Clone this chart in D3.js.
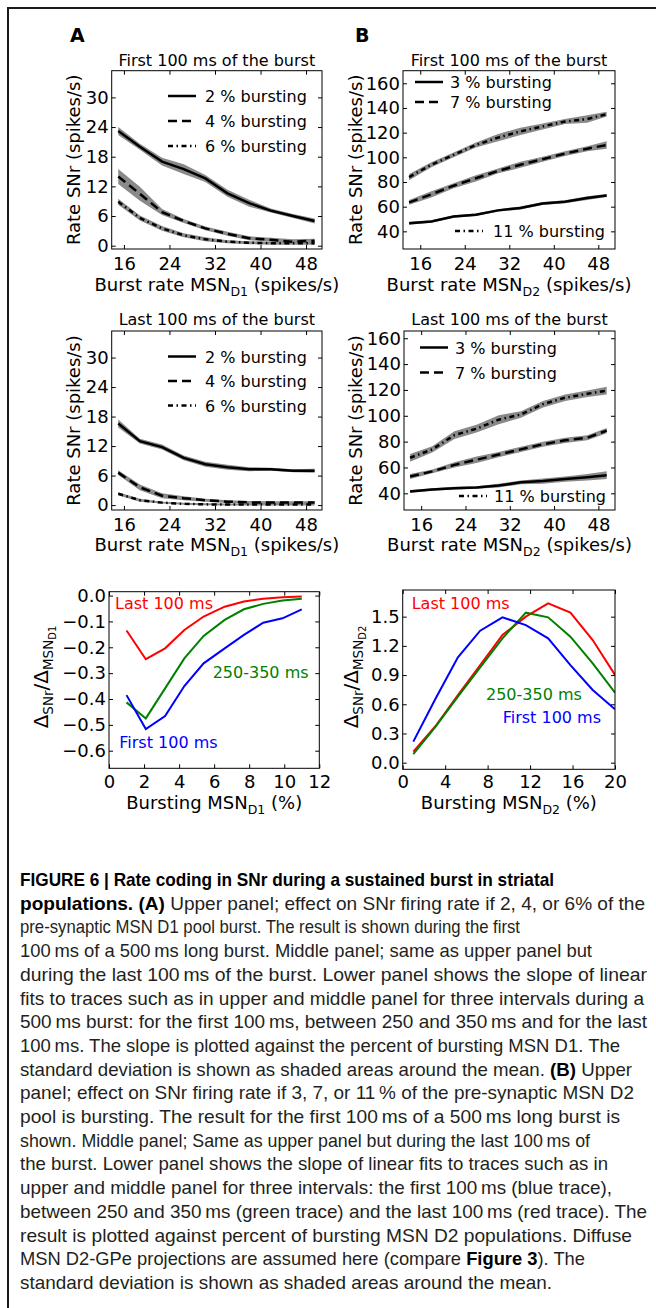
<!DOCTYPE html>
<html lang="en">
<head>
<meta charset="utf-8">
<title>Figure 6</title>
<script src="https://cdn.jsdelivr.net/npm/d3@7"></script>
<style>
  body { margin: 0; background: #fff; }
  svg { display: block; }
</style>
</head>
<body>
<script>
// ---- data ----
var burstRateD1 = [15, 18.8, 22.7, 26.5, 30.3, 34.2, 38, 41.8, 45.7, 49.5];
var burstRateD2 = [14, 18, 22, 26, 30, 34, 38, 42, 46, 49.5];

// A, first 100 ms (2, 4, 6 % bursting)
var d1First2 = [23.2, 20.0, 17.0, 15.5, 13.6, 10.6, 8.6, 7.1, 6.0, 5.0];
var d1First4 = [14.0, 10.5, 6.8, 5.0, 3.5, 2.4, 1.5, 1.2, 0.8, 1.0];
var d1First6 = [8.9, 5.6, 3.5, 2.1, 1.3, 0.8, 0.6, 0.5, 0.5, 0.5];
var d1FirstSd2 = [0.8, 0.6, 0.8, 1.0, 0.7, 0.7, 0.7, 0.4, 0.4, 0.5];
var d1FirstSd4 = [1.5, 1.4, 0.6, 0.4, 0.4, 0.4, 0.4, 0.4, 0.5, 0.4];
var d1FirstSd6 = [0.6, 0.5, 0.5, 0.4, 0.4, 0.3, 0.3, 0.3, 0.3, 0.3];

// A, last 100 ms
var d1Last2 = [16.6, 13.0, 11.8, 9.6, 8.3, 7.7, 7.3, 7.3, 7.0, 7.0];
var d1Last4 = [6.6, 3.6, 1.9, 1.4, 1.0, 0.7, 0.55, 0.5, 0.5, 0.5];
var d1Last6 = [2.3, 1.0, 0.5, 0.25, 0.15, 0.1, 0.1, 0.1, 0.1, 0.1];
var d1LastSd2 = [0.8, 0.5, 0.5, 0.5, 0.5, 0.5, 0.4, 0.3, 0.3, 0.4];
var d1LastSd4 = [0.5, 0.6, 0.5, 0.4, 0.3, 0.3, 0.3, 0.3, 0.3, 0.3];
var d1LastSd6 = [0.3, 0.3, 0.2, 0.2, 0.2, 0.2, 0.2, 0.2, 0.2, 0.2];

// B, first 100 ms (3, 7, 11 % bursting)
var d2First3 = [46.5, 48, 52, 53.5, 57, 59, 62.5, 64, 67, 69];
var d2First7 = [63.5, 70, 77, 83, 89, 94, 98.5, 103, 107, 110];
var d2First11 = [84, 94, 102, 110, 116, 121, 125, 129, 131, 135];
var d2FirstSd3 = [1.2, 1.0, 1.0, 1.0, 1.0, 1.2, 1.2, 1.2, 1.5, 1.2];
var d2FirstSd7 = [2.0, 2.5, 2.0, 2.5, 2.0, 2.5, 2.0, 2.0, 2.0, 3.0];
var d2FirstSd11 = [2.5, 2.0, 2.0, 2.0, 3.0, 3.0, 2.5, 2.0, 3.0, 2.0];

// B, last 100 ms
var d2Last3 = [41.5, 43, 44, 44.5, 46, 48.5, 49.5, 51, 52.5, 54];
var d2Last7 = [53, 57, 62, 66, 70, 74, 78, 81, 83, 88.5];
var d2Last11 = [67.5, 74, 85, 90, 97, 101, 109, 114, 117, 119.5];
var d2LastSd3 = [1.0, 1.0, 1.0, 1.0, 1.5, 1.5, 2.0, 2.0, 2.5, 3.0];
var d2LastSd7 = [2.0, 1.5, 2.0, 2.5, 2.0, 2.0, 2.0, 2.0, 2.0, 2.0];
var d2LastSd11 = [3.0, 2.5, 3.0, 3.0, 3.5, 2.5, 2.5, 2.5, 2.5, 3.0];

var d1Legend = ["2 % bursting", "4 % bursting", "6 % bursting"];
var d2Legend = ["3 % bursting", "7 % bursting", "11 % bursting"];

// lower panels: slope vs % bursting
var pctD1 = [1, 2.1, 3.2, 4.3, 5.4, 6.6, 7.7, 8.8, 9.9, 11];
var slopeD1Last = [-0.135, -0.246, -0.204, -0.133, -0.081, -0.043, -0.023, -0.012, -0.006, -0.004];
var slopeD1Mid = [-0.413, -0.475, -0.359, -0.243, -0.156, -0.094, -0.053, -0.032, -0.019, -0.012];
var slopeD1First = [-0.385, -0.516, -0.466, -0.350, -0.262, -0.204, -0.152, -0.105, -0.088, -0.053];

var pctD2 = [1, 3.1, 5.2, 7.3, 9.4, 11.6, 13.7, 15.8, 17.9, 20];
var slopeD2Last = [0.113, 0.377, 0.695, 1.003, 1.312, 1.50, 1.637, 1.541, 1.260, 0.901];
var slopeD2Mid = [0.089, 0.370, 0.678, 0.979, 1.277, 1.541, 1.493, 1.295, 1.021, 0.719];
var slopeD2First = [0.216, 0.660, 1.082, 1.356, 1.493, 1.414, 1.277, 1.003, 0.747, 0.548];

var intervalNames = ["Last 100 ms", "250-350 ms", "First 100 ms"];

var W = 656, H = 1308;
var FONT = "'DejaVu Sans', 'Bitstream Vera Sans', sans-serif";

var svg = d3.select("body").append("svg")
    .attr("width", W)
    .attr("height", H)
    .style("font-family", FONT);

// outer border (top and left rule)
svg.append("path")
    .attr("d", "M8," + H + "V8H" + W)
    .attr("fill", "none")
    .attr("stroke", "#1a1a1a")
    .attr("stroke-width", 2);

var clipId = 0;

// generic framed panel with inward ticks on all four sides
function panel(o) {
    var x = d3.scaleLinear().domain(o.xDomain).range([o.left, o.right]);
    var y = d3.scaleLinear().domain(o.yDomain).range([o.bottom, o.top]);
    var g = svg.append("g");

    var cid = "clip" + (clipId++);
    g.append("clipPath").attr("id", cid)
      .append("rect")
        .attr("x", o.left).attr("y", o.top)
        .attr("width", o.right - o.left).attr("height", o.bottom - o.top);
    var plot = g.append("g").attr("clip-path", "url(#" + cid + ")");

    g.append("g")
        .attr("transform", "translate(0," + o.bottom + ")")
        .call(d3.axisBottom(x).tickValues(o.xTicks).tickFormat(o.xFmt)
            .tickSizeInner(-4).tickSizeOuter(0).tickPadding(o.xPad));
    g.append("g")
        .attr("transform", "translate(" + o.left + ",0)")
        .call(d3.axisLeft(y).tickValues(o.yTicks).tickFormat(o.yFmt)
            .tickSizeInner(-4).tickSizeOuter(0).tickPadding(3));
    g.append("g")
        .attr("transform", "translate(0," + o.top + ")")
        .call(d3.axisTop(x).tickValues(o.xTicks).tickFormat("")
            .tickSizeInner(-4).tickSizeOuter(0));
    g.append("g")
        .attr("transform", "translate(" + o.right + ",0)")
        .call(d3.axisRight(y).tickValues(o.yTicks).tickFormat("")
            .tickSizeInner(-4).tickSizeOuter(0));

    g.selectAll(".domain").remove();
    g.selectAll(".tick line").attr("stroke", "#000").attr("stroke-width", 1);
    g.selectAll(".tick text")
        .attr("font-family", FONT)
        .attr("font-size", 18)
        .attr("fill", "#000");

    g.append("rect")
        .attr("x", o.left).attr("y", o.top)
        .attr("width", o.right - o.left).attr("height", o.bottom - o.top)
        .attr("fill", "none")
        .attr("stroke", "#000")
        .attr("stroke-width", 1);

    return { x: x, y: y, g: g, plot: plot };
}

function axisTitle(g, x, y, main, sub, tail, rotate) {
    var t = g.append("text")
        .attr("font-size", 18)
        .attr("text-anchor", "middle")
        .attr("fill", "#000");
    if (rotate) t.attr("transform", "translate(" + x + "," + y + ") rotate(-90)");
    else t.attr("x", x).attr("y", y);
    t.append("tspan").text(main);
    if (sub) {
        t.append("tspan").attr("font-size", 12.5).attr("dy", 5).text(sub);
        t.append("tspan").attr("dy", -5).text(tail);
    }
    return t;
}

var dashStyles = [null, "9,5", "5,3.5,1.5,3.5"];

function rateSeries(p, xs, means, sds) {
    means.forEach(function (m, k) {
        var rows = xs.map(function (v, i) { return { x: v, m: m[i], s: sds[k][i] }; });
        p.plot.append("path")
            .datum(rows)
            .attr("fill", "#8a8a8a")
            .attr("d", d3.area()
                .x(function (d) { return p.x(d.x); })
                .y0(function (d) { return p.y(d.m - d.s); })
                .y1(function (d) { return p.y(d.m + d.s); }));
    });
    means.forEach(function (m, k) {
        var rows = xs.map(function (v, i) { return { x: v, m: m[i] }; });
        p.plot.append("path")
            .datum(rows)
            .attr("fill", "none")
            .attr("stroke", "#000")
            .attr("stroke-width", 2.5)
            .attr("stroke-dasharray", dashStyles[k])
            .attr("d", d3.line()
                .x(function (d) { return p.x(d.x); })
                .y(function (d) { return p.y(d.m); }));
    });
}

function legendRow(g, k, label, lx, ly, tx) {
    g.append("line")
        .attr("x1", lx).attr("x2", lx + 28)
        .attr("y1", ly).attr("y2", ly)
        .attr("stroke", "#000")
        .attr("stroke-width", 2.5)
        .attr("stroke-dasharray", dashStyles[k]);
    g.append("text")
        .attr("x", tx).attr("y", ly + 6)
        .attr("font-size", 16)
        .attr("fill", "#000")
        .text(label);
}

function ratePanel(o) {
    var p = panel(o);
    rateSeries(p, o.xs, o.means, o.sds);
    var cx = (o.left + o.right) / 2;
    p.g.append("text")
        .attr("x", cx).attr("y", o.titleY)
        .attr("text-anchor", "middle")
        .attr("font-size", 16)
        .text(o.title);
    axisTitle(p.g, cx, o.xLabelY, "Burst rate MSN", o.sub, " (spikes/s)", false);
    axisTitle(p.g, o.yLabelX, (o.top + o.bottom) / 2, "Rate SNr (spikes/s)", null, null, true);
    o.legend.forEach(function (r) {
        legendRow(p.g, r.k, o.legendLabels[r.k], r.lx, r.y, r.tx);
    });
    return p;
}

var intFmt = d3.format("d");

// ---- A, first 100 ms ----
ratePanel({
    left: 111.7, right: 322, top: 70.7, bottom: 249,
    xDomain: [13.85, 50.8], yDomain: [-0.67, 35.4],
    xTicks: [16, 24, 32, 40, 48], yTicks: [0, 6, 12, 18, 24, 30],
    xFmt: intFmt, yFmt: intFmt, xPad: 8,
    xs: burstRateD1,
    means: [d1First2, d1First4, d1First6],
    sds: [d1FirstSd2, d1FirstSd4, d1FirstSd6],
    title: "First 100 ms of the burst", titleY: 66,
    xLabelY: 291, yLabelX: 80, sub: "D1",
    legendLabels: d1Legend,
    legend: [{ k: 0, lx: 168, y: 96, tx: 205 }, { k: 1, lx: 168, y: 121, tx: 205 }, { k: 2, lx: 168, y: 146, tx: 205 }]
});

// ---- B, first 100 ms ----
ratePanel({
    left: 403, right: 615, top: 70.7, bottom: 249,
    xDomain: [12.9, 51], yDomain: [25.7, 170.2],
    xTicks: [16, 24, 32, 40, 48], yTicks: [40, 60, 80, 100, 120, 140, 160],
    xFmt: intFmt, yFmt: intFmt, xPad: 8,
    xs: burstRateD2,
    means: [d2First3, d2First7, d2First11],
    sds: [d2FirstSd3, d2FirstSd7, d2FirstSd11],
    title: "First 100 ms of the burst", titleY: 66,
    xLabelY: 291, yLabelX: 362, sub: "D2",
    legendLabels: d2Legend,
    legend: [{ k: 0, lx: 415, y: 82, tx: 450 }, { k: 1, lx: 415, y: 102, tx: 450 }, { k: 2, lx: 455, y: 231, tx: 493 }]
});

// ---- A, last 100 ms ----
ratePanel({
    left: 111.7, right: 322, top: 331, bottom: 510,
    xDomain: [13.85, 50.8], yDomain: [-1.0, 35.4],
    xTicks: [16, 24, 32, 40, 48], yTicks: [0, 6, 12, 18, 24, 30],
    xFmt: intFmt, yFmt: intFmt, xPad: 8,
    xs: burstRateD1,
    means: [d1Last2, d1Last4, d1Last6],
    sds: [d1LastSd2, d1LastSd4, d1LastSd6],
    title: "Last 100 ms of the burst", titleY: 325,
    xLabelY: 551, yLabelX: 80, sub: "D1",
    legendLabels: d1Legend,
    legend: [{ k: 0, lx: 168, y: 356.5, tx: 205 }, { k: 1, lx: 168, y: 381, tx: 205 }, { k: 2, lx: 168, y: 405.5, tx: 205 }]
});

// ---- B, last 100 ms ----
ratePanel({
    left: 404, right: 615, top: 331, bottom: 510,
    xDomain: [12.9, 51], yDomain: [27.1, 165.6],
    xTicks: [16, 24, 32, 40, 48], yTicks: [40, 60, 80, 100, 120, 140, 160],
    xFmt: intFmt, yFmt: intFmt, xPad: 8,
    xs: burstRateD2,
    means: [d2Last3, d2Last7, d2Last11],
    sds: [d2LastSd3, d2LastSd7, d2LastSd11],
    title: "Last 100 ms of the burst", titleY: 325,
    xLabelY: 551, yLabelX: 362, sub: "D2",
    legendLabels: d2Legend,
    legend: [{ k: 0, lx: 420, y: 347.5, tx: 455 }, { k: 1, lx: 420, y: 372.5, tx: 455 }, { k: 2, lx: 459, y: 496, tx: 494 }]
});

// panel letters
svg.append("text").attr("x", 70).attr("y", 42).attr("font-size", 19).attr("font-weight", "bold").text("A");
svg.append("text").attr("x", 355).attr("y", 42).attr("font-size", 19).attr("font-weight", "bold").text("B");

// ---- slope panels ----
var intervalColors = ["#ff0000", "#008000", "#0000ff"];

function slopeLabel(g, bx, cy, sub) {
    var t = g.append("text")
        .attr("transform", "translate(" + bx + "," + cy + ") rotate(-90)")
        .attr("text-anchor", "middle")
        .attr("font-size", 20)
        .attr("fill", "#000");
    t.append("tspan").text("\u0394");
    t.append("tspan").attr("font-size", 13.5).attr("dy", 5).text("SNr");
    t.append("tspan").attr("dy", -5).text("/\u0394");
    t.append("tspan").attr("font-size", 13.5).attr("dy", 5).text("MSN");
    t.append("tspan").attr("font-size", 10).attr("dy", 3).text(sub);
}

function slopePanel(o) {
    var p = panel(o);
    o.series.forEach(function (s, k) {
        var rows = o.xs.map(function (v, i) { return { x: v, v: s[i] }; });
        p.plot.append("path")
            .datum(rows)
            .attr("fill", "none")
            .attr("stroke", intervalColors[k])
            .attr("stroke-width", 2)
            .attr("d", d3.line()
                .x(function (d) { return p.x(d.x); })
                .y(function (d) { return p.y(d.v); }));
    });
    o.notes.forEach(function (n, k) {
        p.g.append("text")
            .attr("x", n[0]).attr("y", n[1])
            .attr("font-size", 16)
            .attr("fill", intervalColors[k])
            .text(intervalNames[k]);
    });
    var cx = (o.left + o.right) / 2;
    axisTitle(p.g, cx, 809, "Bursting MSN", o.sub, " (%)", false);
    slopeLabel(p.g, o.yLabelX, 677, o.sub);
}

slopePanel({
    left: 109, right: 319.3, top: 591.7, bottom: 768.3,
    xDomain: [0, 12], yDomain: [-0.668, 0.015],
    xTicks: [0, 2, 4, 6, 8, 10, 12], yTicks: [0, -0.1, -0.2, -0.3, -0.4, -0.5, -0.6],
    xFmt: intFmt, yFmt: d3.format(".1f"), xPad: 7,
    xs: pctD1,
    series: [slopeD1Last, slopeD1Mid, slopeD1First],
    notes: [[115, 609], [212.7, 678], [119.3, 748]],
    yLabelX: 48, sub: "D1"
});

slopePanel({
    left: 402.7, right: 615, top: 590, bottom: 769.3,
    xDomain: [0, 20], yDomain: [-0.068, 1.774],
    xTicks: [0, 4, 8, 12, 16, 20], yTicks: [0, 0.3, 0.6, 0.9, 1.2, 1.5],
    xFmt: intFmt, yFmt: d3.format(".1f"), xPad: 6,
    xs: pctD2,
    series: [slopeD2Last, slopeD2Mid, slopeD2First],
    notes: [[411.7, 609], [486, 700], [502.7, 723]],
    yLabelX: 358, sub: "D2"
});

// ---- caption ----
var TS = "\u2009";
var captionLines = [
    [["FIGURE 6 | Rate coding in SNr during a sustained burst in striatal", 1]],
    [["populations. (A)", 1], [" Upper panel; effect on SNr firing rate if 2, 4, or 6% of the", 0]],
    [["pre-synaptic MSN D1 pool burst. The result is shown during the first", 0]],
    [["100" + TS + "ms of a 500" + TS + "ms long burst. Middle panel; same as upper panel but", 0]],
    [["during the last 100" + TS + "ms of the burst. Lower panel shows the slope of linear", 0]],
    [["fits to traces such as in upper and middle panel for three intervals during a", 0]],
    [["500" + TS + "ms burst: for the first 100" + TS + "ms, between 250 and 350" + TS + "ms and for the last", 0]],
    [["100" + TS + "ms. The slope is plotted against the percent of bursting MSN D1. The", 0]],
    [["standard deviation is shown as shaded areas around the mean. ", 0], ["(B)", 1], [" Upper", 0]],
    [["panel; effect on SNr firing rate if 3, 7, or 11" + TS + "% of the pre-synaptic MSN D2", 0]],
    [["pool is bursting. The result for the first 100" + TS + "ms of a 500" + TS + "ms long burst is", 0]],
    [["shown. Middle panel; Same as upper panel but during the last 100" + TS + "ms of", 0]],
    [["the burst. Lower panel shows the slope of linear fits to traces such as in", 0]],
    [["upper and middle panel for three intervals: the first 100" + TS + "ms (blue trace),", 0]],
    [["between 250 and 350" + TS + "ms (green trace) and the last 100" + TS + "ms (red trace). The", 0]],
    [["result is plotted against percent of bursting MSN D2 populations. Diffuse", 0]],
    [["MSN D2-GPe projections are assumed here (compare ", 0], ["Figure 3", 1], ["). The", 0]],
    [["standard deviation is shown as shaded areas around the mean.", 0]]
];
// right end of each caption line as seen in the original (condensed face)
var captionLineEnds = [554, 645, 520, 592, 647, 644, 647, 620, 632, 634, 620, 590, 608, 612, 647, 632, 585, 552];

var cap = svg.append("g")
    .style("font-family", "'Liberation Sans Narrow', 'Liberation Sans', Arial, sans-serif");
captionLines.forEach(function (segs, i) {
    var t = cap.append("text")
        .attr("x", 20)
        .attr("y", 886 + i * 23.7)
        .attr("font-size", 18.5)
        .attr("fill", "#231f20")
        .attr("textLength", captionLineEnds[i] - 20)
        .attr("lengthAdjust", "spacingAndGlyphs");
    segs.forEach(function (s) {
        t.append("tspan")
            .attr("font-weight", s[1] ? "bold" : "normal")
            .attr("fill", s[1] ? "#000" : "#231f20")
            .text(s[0]);
    });
});
</script>
</body>
</html>
